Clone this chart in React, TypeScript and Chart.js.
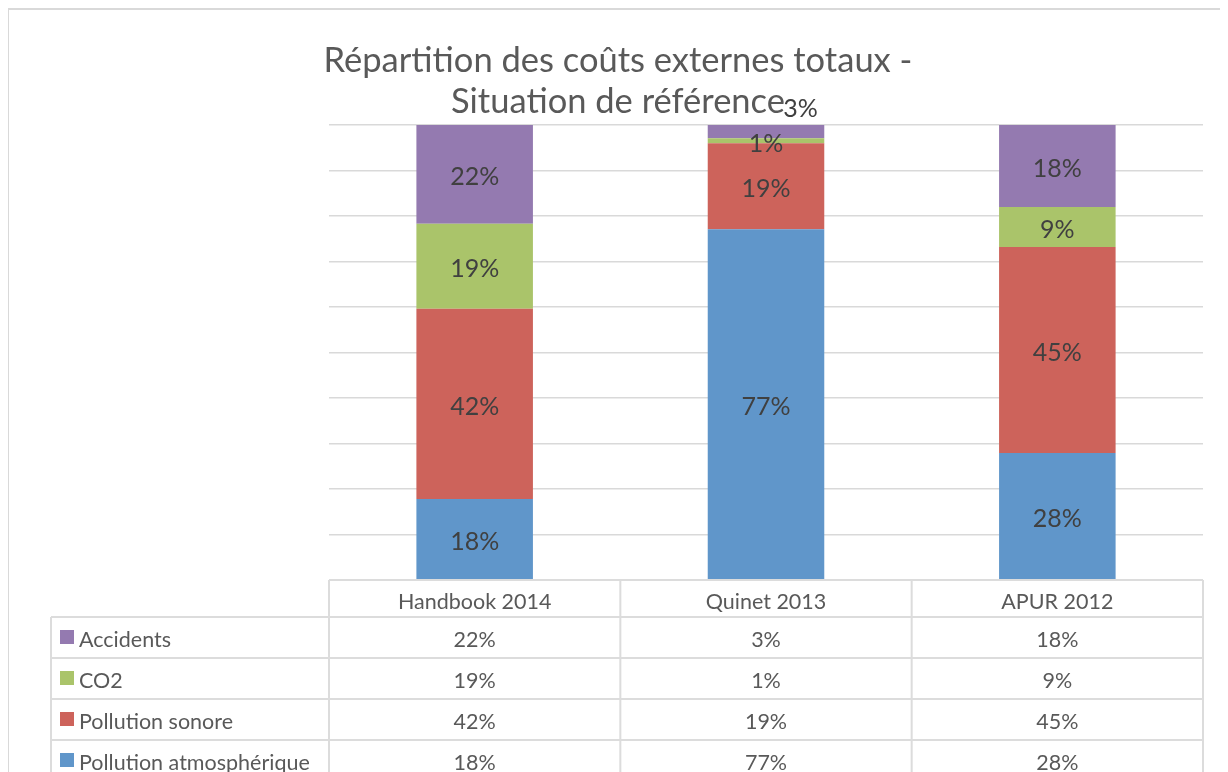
import React, { useEffect, useRef } from "react";
import { Chart, registerables } from "chart.js";

Chart.register(...registerables);

const categories = ["Handbook 2014", "Quinet 2013", "APUR 2012"];
const seriesNames = ["Pollution atmosphérique", "Pollution sonore", "CO2", "Accidents"];
const pollutionAtmospherique = [17.8, 77.1, 27.9];
const pollutionSonore = [41.8, 18.9, 45.3];
const co2 = [18.7, 1.1, 8.8];
const accidents = [21.7, 2.9, 18.0];
const seriesColors = ["#6096CA", "#CD635B", "#AAC46A", "#947AB0"];
const titleLines = ["Répartition des coûts externes totaux -", "Situation de référence"];
const yMax = 100;
const yStep = 10;

const FONT = "Lato, 'Open Sans', sans-serif";
const fmt = (v: number) => Math.round(v) + "%";

const decorPlugin = {
  id: "decor",
  beforeDraw(chart: any) {
    const ctx = chart.ctx;
    ctx.save();
    ctx.fillStyle = "#ffffff";
    ctx.fillRect(0, 0, chart.width, chart.height);
    // frame
    ctx.strokeStyle = "#d9d9d9";
    ctx.lineWidth = 2;
    ctx.beginPath();
    ctx.moveTo(0, chart.height);
    ctx.lineTo(0, 1);
    ctx.lineTo(chart.width, 1);
    ctx.stroke();
    // title
    ctx.fillStyle = "#595959";
    ctx.font = "34.5px " + FONT;
    ctx.textAlign = "center";
    ctx.textBaseline = "alphabetic";
    ctx.fillText(titleLines[0], chart.width / 2, 64);
    ctx.fillText(titleLines[1], chart.width / 2, 105);
    ctx.restore();
  },
  afterDatasetsDraw(chart: any) {
    const ctx = chart.ctx;
    ctx.save();
    ctx.font = "25px " + FONT;
    ctx.fillStyle = "#404040";
    ctx.textAlign = "center";
    ctx.textBaseline = "middle";
    const nDs = chart.data.datasets.length;
    const minGap = 35;
    categories.forEach((_, i) => {
      let prevY: number | null = null;
      for (let d = 0; d < nDs; d++) {
        const el = chart.getDatasetMeta(d).data[i];
        const v = chart.data.datasets[d].data[i] as number;
        const text = fmt(v);
        let y = (el.y + el.base) / 2;
        let x = el.x;
        if (prevY !== null && prevY - y < minGap) {
          y = prevY - minGap;
          x = el.x + ctx.measureText(text).width;
        }
        prevY = y;
        ctx.fillText(text, x, y + 3);
      }
    });
    ctx.restore();
  },
  afterDraw(chart: any) {
    const ctx = chart.ctx;
    const area = chart.chartArea;
    const colW = (area.right - area.left) / categories.length;
    const top = area.bottom;
    const headerH = 37;
    const rowH = 41;
    const legendLeft = 43;
    const nRows = chart.data.datasets.length;
    ctx.save();
    ctx.strokeStyle = "#dcdcdc";
    ctx.lineWidth = 2;
    ctx.beginPath();
    ctx.moveTo(area.left, top);
    ctx.lineTo(area.right, top);
    for (let r = 0; r <= nRows; r++) {
      const y = top + headerH + r * rowH;
      ctx.moveTo(legendLeft, y);
      ctx.lineTo(area.right, y);
    }
    const bottomY = top + headerH + nRows * rowH + 10;
    ctx.moveTo(legendLeft, top + headerH);
    ctx.lineTo(legendLeft, bottomY);
    for (let c = 0; c <= categories.length; c++) {
      const x = area.left + c * colW;
      ctx.moveTo(x, top);
      ctx.lineTo(x, bottomY);
    }
    ctx.stroke();

    ctx.fillStyle = "#595959";
    ctx.font = "21.5px " + FONT;
    ctx.textAlign = "center";
    ctx.textBaseline = "alphabetic";
    categories.forEach((c, i) => {
      ctx.fillText(c, area.left + (i + 0.5) * colW, top + 29);
    });
    for (let r = 0; r < nRows; r++) {
      const d = nRows - 1 - r;
      const ds = chart.data.datasets[d];
      const rowTop = top + headerH + r * rowH;
      ds.data.forEach((v: number, i: number) => {
        ctx.fillStyle = "#595959";
        ctx.textAlign = "center";
        ctx.fillText(fmt(v), area.left + (i + 0.5) * colW, rowTop + 30);
      });
      ctx.fillStyle = ds.backgroundColor;
      ctx.fillRect(legendLeft + 9, rowTop + 13, 14, 14);
      ctx.fillStyle = "#595959";
      ctx.textAlign = "left";
      ctx.fillText(ds.label, legendLeft + 28, rowTop + 30);
    }
    ctx.restore();
  },
};

export default function App() {
  const ref = useRef<HTMLCanvasElement>(null);
  useEffect(() => {
    if (!ref.current) return;
    const values = [pollutionAtmospherique, pollutionSonore, co2, accidents];
    const chart = new Chart(ref.current, {
      type: "bar",
      data: {
        labels: categories,
        datasets: values.map((vals, i) => ({
          label: seriesNames[i],
          data: vals,
          backgroundColor: seriesColors[i],
          borderWidth: 0,
          categoryPercentage: 0.8,
          barPercentage: 0.5,
        })),
      },
      options: {
        responsive: false,
        animation: false,
        devicePixelRatio: 1,
        layout: { padding: { left: 321, right: 25, top: 117, bottom: 228 } },
        scales: {
          x: { display: false, stacked: true, offset: true },
          y: {
            stacked: true,
            min: 0,
            max: yMax,
            ticks: { display: false, stepSize: yStep },
            grid: { color: "#d9d9d9", lineWidth: 1.5, drawTicks: false },
            border: { display: false },
          },
        },
        plugins: {
          legend: { display: false },
          title: { display: false },
          tooltip: { enabled: false },
        },
      },
      plugins: [decorPlugin],
    });
    return () => chart.destroy();
  }, []);
  return (
    <div style={{ width: 1220, height: 764, overflow: "hidden" }}>
      <canvas ref={ref} width={1220} height={800} style={{ display: "block" }} />
    </div>
  );
}
